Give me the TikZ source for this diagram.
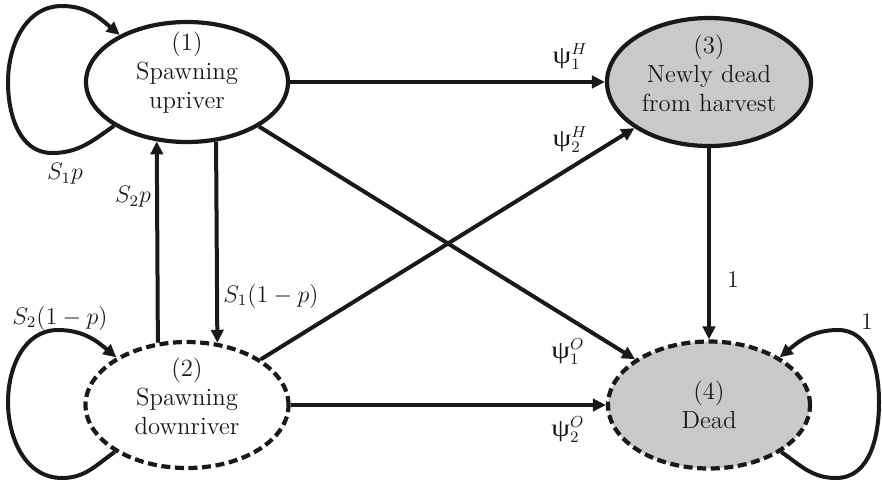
\documentclass[tikz,border=0pt]{standalone}
\usepackage{fontspec}
\newfontfamily\grk{Liberation Serif}
\usetikzlibrary{shapes.geometric,arrows.meta,calc}
\definecolor{nodegray}{RGB}{200,201,203}
\definecolor{ink}{RGB}{25,25,25}
\newcommand{\mypsi}{\mbox{\scalebox{1.3}[1.08]{\grk ψ}}}
\begin{document}
\begin{tikzpicture}[x=0.5pt,y=0.5pt,
  state/.style={ellipse,draw=ink,line width=2.1pt,inner sep=0pt},
  dashedstate/.style={state,dash pattern=on 4.5pt off 2.3pt},
  deadfill/.style={fill=nodegray},
  arr/.style={draw=ink,line width=2pt,-{Triangle[length=6.5pt,width=6.2pt]}},
  txt/.style={align=center,text=ink,font=\fontsize{12.4}{14.5}\selectfont,inner sep=0pt},
  lab/.style={text=ink,font=\fontsize{11.5}{13}\selectfont,inner sep=0pt}]
\useasboundingbox (0,0) rectangle (882,-484);

% states
\node[state, minimum width=101pt, minimum height=60pt] (n1) at (187,-82) {};
\node[dashedstate, minimum width=101.5pt, minimum height=63pt] (n2) at (187,-405) {};
\node[state, deadfill, minimum width=102pt, minimum height=64pt] (n3) at (709,-82) {};
\node[dashedstate, deadfill, minimum width=101pt, minimum height=63.5pt] (n4) at (709,-405) {};

\node[txt] (t1) at ($(n1)+(0,9)$) {(1)\\Spawning\\upriver};
\node[txt] (t2) at ($(n2)+(0,9)$) {(2)\\Spawning\\downriver};
\node[txt] (t3) at ($(n3)+(0,9)$) {(3)\\Newly dead\\from harvest};
\node[txt] (t4) at ($(n4)+(0,0)$) {(4)\\Dead};

% straight transitions
\draw[arr] (n1) -- (n3);
\draw[arr] (n1) -- (n4);
\draw[arr] (n2) -- (n3);
\draw[arr] (n2) -- (n4);
\draw[arr] (n3) -- (n4);
\draw[arr] (n2.115.7) -- (n1.243.2);
\draw[arr] (n1.296.8) -- (n2.64.3);

% self loops
\coordinate (a1) at (52,-153);
\coordinate (a2) at (8,-82);
\coordinate (a3) at (62,-6);
\draw[arr] (n1.211) to[out=215,in=0] (a1) to[out=180,in=270] (a2)
  to[out=90,in=180] (a3) to[out=0,in=140] (n1.145);

\coordinate (b1) at (62,-478);
\coordinate (b2) at (8,-402);
\coordinate (b3) at (58,-330);
\draw[arr] (n2.213) to[out=215,in=0] (b1) to[out=180,in=270] (b2)
  to[out=90,in=180] (b3) to[out=0,in=140] (n2.146);

\coordinate (c1) at (836,-478);
\coordinate (c2) at (879,-402);
\coordinate (c3) at (838,-330);
\draw[arr] (n4.-33) to[out=-35,in=180] (c1) to[out=0,in=270] (c2)
  to[out=90,in=0] (c3) to[out=180,in=40] (n4.34);

% labels
\node[lab] (l1) at (65,-174) {$S_1p$};
\node[lab] (l2) at (133,-197) {$S_2p$};
\node[lab] (l3) at (60,-318) {$S_2(1-p)$};
\node[lab] (l4) at (271,-296) {$S_1(1-p)$};
\node[lab] (l5) at (570,-57) {$\mypsi_1^H$};
\node[lab] (l6) at (570,-140) {$\mypsi_2^H$};
\node[lab] (l7) at (568,-352) {$\mypsi_1^O$};
\node[lab] (l8) at (568,-430) {$\mypsi_2^O$};
\node[lab] (l9) at (733,-280) {$1$};
\node[lab] (l10) at (867,-322) {$1$};
\end{tikzpicture}
\end{document}
